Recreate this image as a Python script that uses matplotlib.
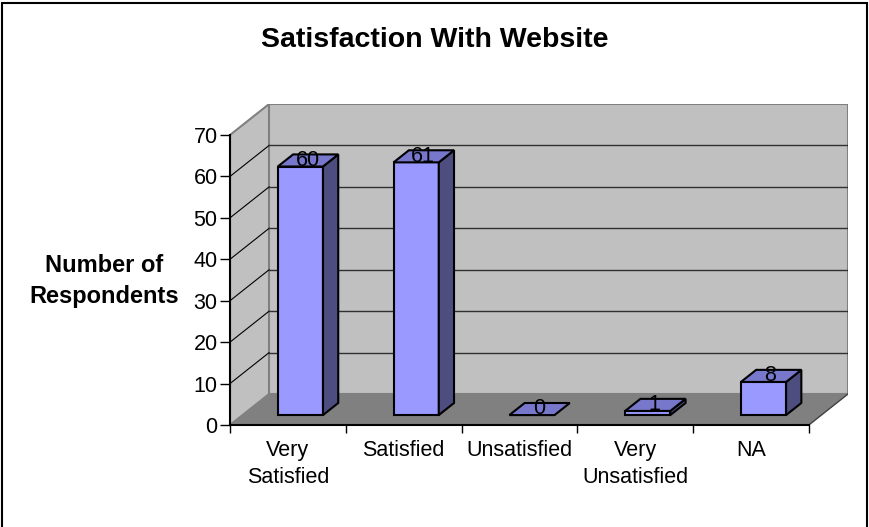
import matplotlib
matplotlib.use('agg')
import matplotlib.pyplot as plt
from matplotlib.patches import Polygon, Rectangle

categories = ['Very\nSatisfied', 'Satisfied', 'Unsatisfied', 'Very\nUnsatisfied', 'NA']
counts = [60, 61, 0, 1, 8]
y_ticks = [0, 10, 20, 30, 40, 50, 60, 70]

plt.rcParams['font.family'] = ['Liberation Sans', 'DejaVu Sans']

# depth of the 3d box, in data units
dx = 0.338
dy = 7.48
ymax = 70
n = len(categories)

fig = plt.figure(figsize=(8.69, 5.27), dpi=100)
ax = fig.add_axes([230/869, 102/527, 618/869, 321/527])
ax.set_xlim(0, n + dx)
ax.set_ylim(0, ymax + dy)
ax.patch.set_visible(False)

# walls and floor
ax.add_patch(Polygon([(0, 0), (dx, dy), (dx, ymax + dy), (0, ymax)],
                     fc='#c0c0c0', ec='#808080', lw=1.5, zorder=1))
ax.add_patch(Rectangle((dx, dy), n, ymax, fc='#c0c0c0', ec='#808080', lw=1.5, zorder=1))
ax.add_patch(Polygon([(0, 0), (n, 0), (n + dx, dy), (dx, dy)], fc='#808080', ec='none', zorder=1))
ax.plot([n, n + dx], [0, dy], color='#404040', lw=1, zorder=2)

for v in y_ticks[1:-1]:
    ax.plot([0, dx], [v, v + dy], color='black', lw=0.8, zorder=2)
    ax.plot([dx, n + dx], [v + dy, v + dy], color='#303030', lw=1, zorder=2)

# bars
w = 0.195
z0 = 0.32
z1 = 0.71

def p(x, y, z):
    return (x + z * dx, y + z * dy)

for i, v in enumerate(counts):
    c = i + 0.5
    style = dict(ec='black', lw=1.5, joinstyle='miter', zorder=3)
    if v > 0:
        ax.add_patch(Polygon([p(c - w, 0, z0), p(c + w, 0, z0), p(c + w, v, z0), p(c - w, v, z0)],
                             fc='#9999ff', **style))
        ax.add_patch(Polygon([p(c + w, 0, z0), p(c + w, 0, z1), p(c + w, v, z1), p(c + w, v, z0)],
                             fc='#4d4d80', **style))
    ax.add_patch(Polygon([p(c - w, v, z0), p(c + w, v, z0), p(c + w, v, z1), p(c - w, v, z1)],
                         fc='#7777cc', **style))
    ax.text(c + 0.5 * dx, v + 0.52 * dy, str(v), ha='center', va='center', fontsize=15.5, zorder=4)

# axes
for s in ['top', 'right']:
    ax.spines[s].set_visible(False)
ax.spines['left'].set_bounds(0, ymax)
ax.spines['bottom'].set_bounds(0, n)
ax.spines['left'].set_linewidth(1.5)
ax.spines['bottom'].set_linewidth(1.5)
ax.spines['left'].set_zorder(5)
ax.spines['bottom'].set_zorder(5)

ax.set_yticks(y_ticks)
ax.tick_params(axis='y', length=7, width=1, pad=2, labelsize=15.5)
ax.set_xticks(range(n + 1))
ax.set_xticklabels([])
ax.set_xticks([i + 0.5 for i in range(n)], minor=True)
ax.set_xticklabels(categories, minor=True)
ax.tick_params(axis='x', which='major', length=6, width=1)
ax.tick_params(axis='x', which='minor', length=0, pad=11, labelsize=15.5)
for t in ax.get_xticklabels(minor=True):
    t.set_linespacing(1.35)

fig.text(435/869, 1 - 40/527, 'Satisfaction With Website', ha='center', va='center',
         fontsize=20.5, weight='bold')
fig.text(104/869, 1 - 281/527, 'Number of\nRespondents', ha='center', va='center',
         fontsize=17, weight='bold', linespacing=1.45)

fig.add_artist(Rectangle((2/869, -0.02), 865/869, 1.0143, transform=fig.transFigure,
                         fill=False, ec='black', lw=1.5))

plt.savefig('out.png')
